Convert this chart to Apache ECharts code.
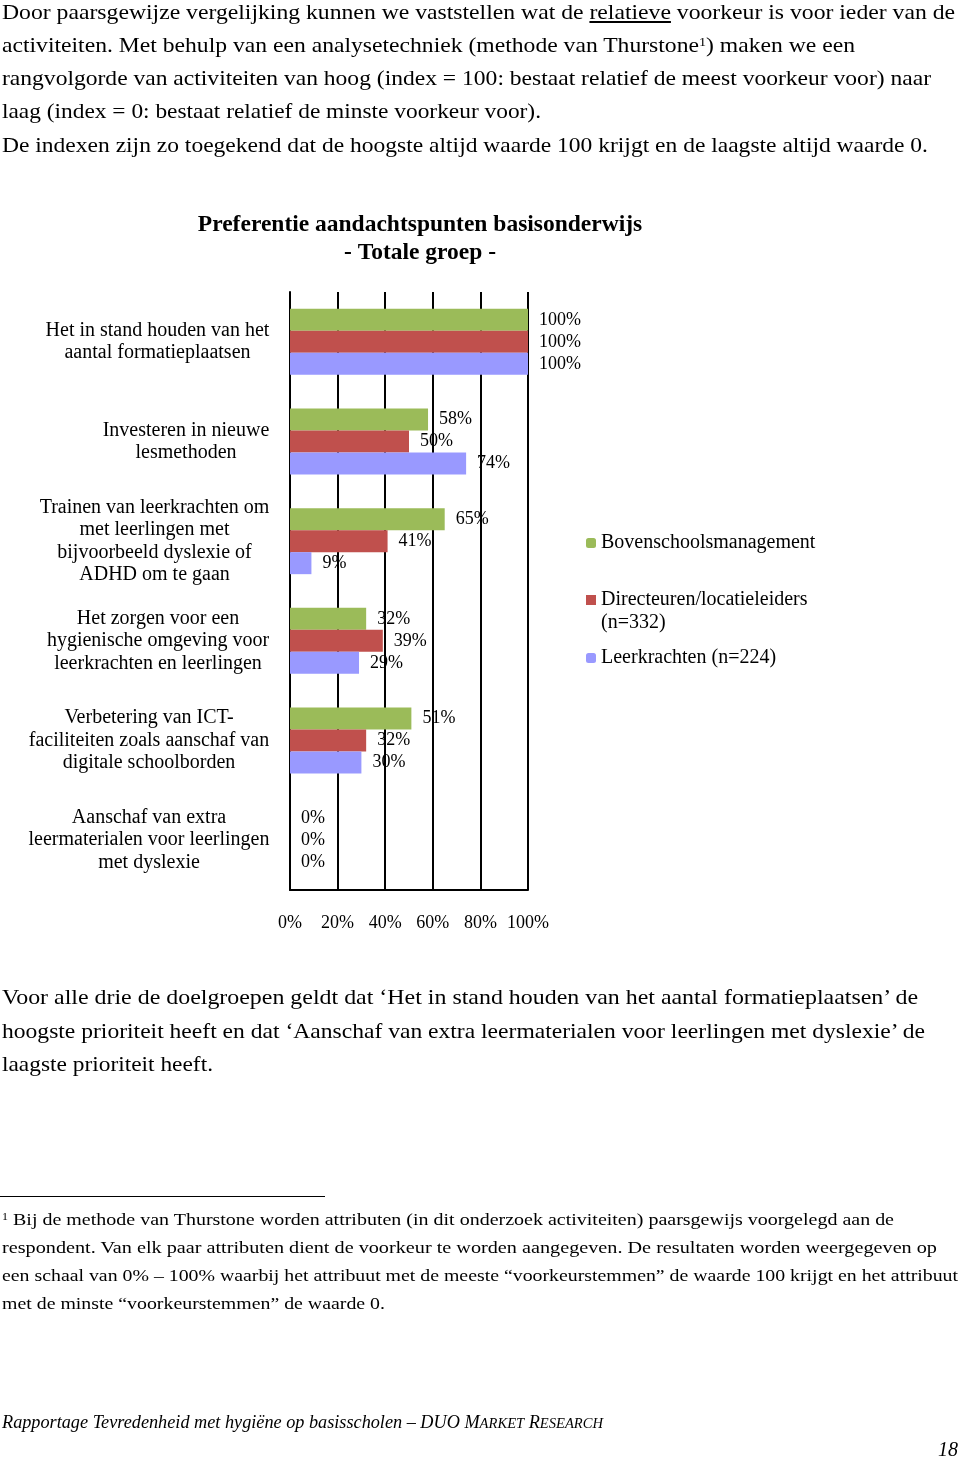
<!DOCTYPE html>
<html><head><meta charset="utf-8">
<script src="https://cdn.jsdelivr.net/npm/echarts@6/dist/echarts.min.js"></script>
<style>
html,body{margin:0;padding:0;background:#fff;}
#page{position:relative;width:960px;height:1462px;overflow:hidden;}
#chart{position:absolute;left:0;top:0;width:960px;height:1462px;}
.ln{position:absolute;left:2px;white-space:nowrap;font-family:"Liberation Serif",serif;color:#000;transform-origin:0 50%;display:inline-block;}
.it{font-style:italic;}
sup{font-size:60%;vertical-align:0.5em;line-height:0;}
.sc{font-size:80%;}
#sep{position:absolute;left:0;top:1196px;width:325px;height:0;border-top:1.5px solid #000;}
</style></head>
<body><div id="page">
<div id="chart"></div>
<div class="ln" data-c="13" data-w="953" style="font-size:21px">Door paarsgewijze vergelijking kunnen we vaststellen wat de <u>relatieve</u> voorkeur is voor ieder van de</div>
<div class="ln" data-c="46" data-w="853" style="font-size:21px">activiteiten. Met behulp van een analysetechniek (methode van Thurstone<sup>1</sup>) maken we een</div>
<div class="ln" data-c="79" data-w="929" style="font-size:21px">rangvolgorde van activiteiten van hoog (index = 100: bestaat relatief de meest voorkeur voor) naar</div>
<div class="ln" data-c="112" data-w="539" style="font-size:21px">laag (index = 0: bestaat relatief de minste voorkeur voor).</div>
<div class="ln" data-c="146" data-w="926" style="font-size:21px">De indexen zijn zo toegekend dat de hoogste altijd waarde 100 krijgt en de laagste altijd waarde 0.</div>
<div class="ln" data-c="998" data-w="916" style="font-size:21px">Voor alle drie de doelgroepen geldt dat ‘Het in stand houden van het aantal formatieplaatsen’ de</div>
<div class="ln" data-c="1032" data-w="923" style="font-size:21px">hoogste prioriteit heeft en dat ‘Aanschaf van extra leermaterialen voor leerlingen met dyslexie’ de</div>
<div class="ln" data-c="1065" data-w="211" style="font-size:21px">laagste prioriteit heeft.</div>
<div id="sep"></div>
<div class="ln" data-c="1220" data-w="892" style="font-size:17px"><sup>1</sup> Bij de methode van Thurstone worden attributen (in dit onderzoek activiteiten) paarsgewijs voorgelegd aan de</div>
<div class="ln" data-c="1248" data-w="935" style="font-size:17px">respondent. Van elk paar attributen dient de voorkeur te worden aangegeven. De resultaten worden weergegeven op</div>
<div class="ln" data-c="1276" data-w="956" style="font-size:17px">een schaal van 0% – 100% waarbij het attribuut met de meeste “voorkeurstemmen” de waarde 100 krijgt en het attribuut</div>
<div class="ln" data-c="1304" data-w="383" style="font-size:17px">met de minste “voorkeurstemmen” de waarde 0.</div>
<div class="ln it" data-c="1422" data-w="601" style="font-size:19px">Rapportage Tevredenheid met hygiëne op basisscholen – DUO M<span class="sc">ARKET</span> R<span class="sc">ESEARCH</span></div>
<div class="ln it" data-c="1450" data-w="20" data-l="938" style="font-size:21px">18</div>
</div>
<script>
const categories = [
  "Het in stand houden van het\naantal formatieplaatsen",
  "Investeren in nieuwe\nlesmethoden",
  "Trainen van leerkrachten om\nmet leerlingen met\nbijvoorbeeld dyslexie of\nADHD om te gaan",
  "Het zorgen voor een\nhygienische omgeving voor\nleerkrachten en leerlingen",
  "Verbetering van ICT-\nfaciliteiten zoals aanschaf van\ndigitale schoolborden",
  "Aanschaf van extra\nleermaterialen voor leerlingen\nmet dyslexie"
];
const seriesNames = ["Bovenschoolsmanagement", "Directeuren/locatieleiders\n(n=332)", "Leerkrachten (n=224)"];
const bovenschoolsmanagement = [100, 58, 65, 32, 51, 0];
const directeuren = [100, 50, 41, 39, 32, 0];
const leerkrachten = [100, 74, 9, 29, 30, 0];
const colors = ["#9BBB59", "#C0504D", "#9999FF"];
const axisMin = 0, axisMax = 100, axisInterval = 20;

// fit text lines
document.querySelectorAll('.ln').forEach(el => {
  const fs = parseFloat(el.style.fontSize);
  const lh = fs * 1.2;
  el.style.lineHeight = lh + 'px';
  el.style.top = (+el.dataset.c - lh / 2) + 'px';
  if (el.dataset.l) el.style.left = el.dataset.l + 'px';
  const w = el.getBoundingClientRect().width;
  el.style.transform = 'scaleX(' + (+el.dataset.w / w) + ')';
});

const FF = '"Liberation Serif", serif';
const CAT_FS = 20;
// rich styles so that the lines of each category label are centred within their block
const ctx = document.createElement('canvas').getContext('2d');
ctx.font = CAT_FS + 'px "Liberation Serif"';
const rich = {};
categories.forEach((c, i) => {
  const w = Math.max(...c.split('\n').map(s => ctx.measureText(s).width));
  rich['r' + i] = {width: Math.ceil(w) + 1, align: 'center', fontFamily: FF, fontSize: CAT_FS, color: '#000', lineHeight: 22.5};
});

const chart = echarts.init(document.getElementById('chart'), null, {renderer: 'canvas'});
const dataSets = [bovenschoolsmanagement, directeuren, leerkrachten];
const legendBase = {orient: 'vertical', left: 586, padding: 0, itemWidth: 10, itemHeight: 10,
  textStyle: {fontFamily: FF, fontSize: 20, color: '#000', lineHeight: 23}};
chart.setOption({
  animation: false,
  title: {text: 'Preferentie aandachtspunten basisonderwijs\n- Totale groep -', left: 420, top: 211, textAlign: 'center', padding: 0,
    textStyle: {fontFamily: FF, fontSize: 23.5, fontWeight: 'bold', color: '#000', lineHeight: 28}},
  legend: [
    Object.assign({}, legendBase, {data: [seriesNames[0]], top: 531.5}),
    Object.assign({}, legendBase, {data: [{name: seriesNames[1], icon: 'path://M0,0L0.01,0Z M0,6.5L10,6.5L10,16.5L0,16.5Z M0,46L0.01,46Z'}], top: 588.5, itemHeight: 46, symbolKeepAspect: false}),
    Object.assign({}, legendBase, {data: [seriesNames[2]], top: 646.5})
  ],
  grid: {left: 290, top: 292, width: 238, height: 598, containLabel: false, outerBoundsMode: 'none'},
  xAxis: {type: 'value', min: axisMin, max: axisMax, interval: axisInterval,
    axisLine: {show: true, lineStyle: {color: '#000', width: 2}},
    axisTick: {show: false},
    splitLine: {show: true, lineStyle: {color: '#000', width: 2}},
    axisLabel: {formatter: '{value}%', margin: 24, fontFamily: FF, fontSize: 18, color: '#000'}},
  yAxis: {type: 'category', data: categories, inverse: true,
    axisLine: {show: true, lineStyle: {color: '#000', width: 2}},
    axisTick: {show: false},
    axisLabel: {margin: 20, fontFamily: FF, fontSize: CAT_FS, color: '#000', lineHeight: 22.5, align: 'right',
      formatter: (v, i) => v.split('\n').map(s => '{r' + i + '|' + s + '}').join('\n'), rich: rich}},
  series: dataSets.map((d, i) => ({
    type: 'bar', name: seriesNames[i], data: d, barWidth: 22, barGap: '0%',
    itemStyle: {color: colors[i]},
    label: {show: true, position: 'right', distance: 11, formatter: '{c}%', fontFamily: FF, fontSize: 18, color: '#000'}
  }))
});
</script>
</body></html>
